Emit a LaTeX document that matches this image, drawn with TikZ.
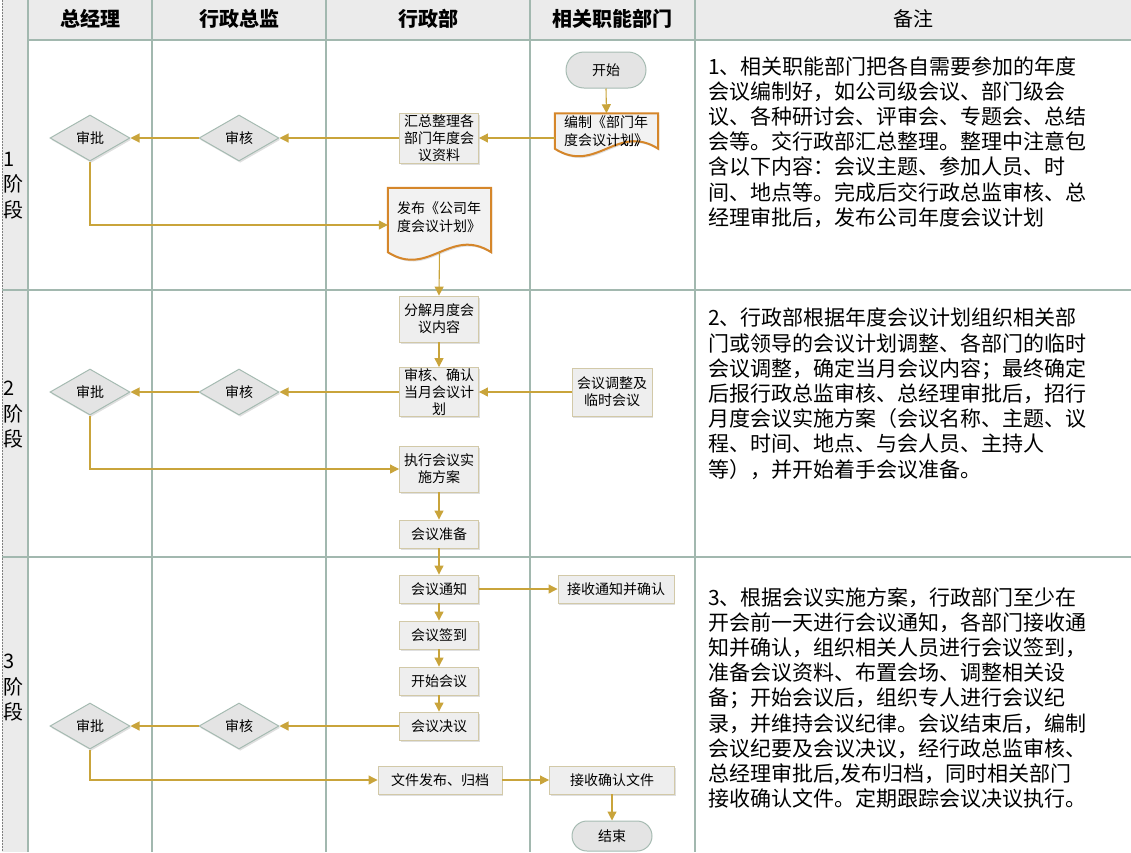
\documentclass[tikz,border=0pt]{standalone}
\usepackage{fontspec}
\setmainfont{Noto Sans CJK SC}
\usetikzlibrary{shapes.geometric,arrows.meta,shadows}
\definecolor{lane}{HTML}{A2B8AF}
\definecolor{arrowc}{HTML}{C9A43B}
\definecolor{boxline}{HTML}{D2C9A8}
\definecolor{boxfill}{HTML}{EEEEEE}
\definecolor{dmline}{HTML}{A6BBB2}
\definecolor{dmfill}{HTML}{E4E4E4}
\definecolor{docline}{HTML}{D5862A}
\definecolor{docfill}{HTML}{F2F2F2}
\definecolor{hdfill}{HTML}{EBEBEB}
\begin{document}
\begin{tikzpicture}[x=1pt,y=-1pt,
  lanesty/.style={draw=lane,line width=1.3pt},
  arr/.style={draw=arrowc,line width=1.1pt,-{Triangle[length=9pt,width=9pt]}},
  shade/.style={drop shadow={shadow xshift=1.2pt,shadow yshift=-1.8pt,opacity=0.25}},
  flowbox/.style={rectangle,draw=boxline,fill=boxfill,line width=0.9pt,inner sep=1pt,align=center,
    font=\fontsize{14}{17}\selectfont,shade},
  dm/.style={diamond,draw=dmline,fill=dmfill,line width=1pt,inner sep=0pt,minimum width=80pt,
    minimum height=46pt,font=\fontsize{14}{17}\selectfont,shade},
  term/.style={rectangle,draw=dmline,fill=dmfill,line width=1pt,minimum width=80pt,
    font=\fontsize{14}{17}\selectfont},
  doctext/.style={rectangle,inner xsep=9pt,inner ysep=2pt,text width=85pt,align=left,
    font=\fontsize{14}{18}\selectfont},
  docshape/.style={draw=docline,fill=docfill,line width=2pt,shade},
  hd/.style={font=\fontsize{20}{24}\selectfont\bfseries},
  note/.style={anchor=north west,inner sep=0pt,align=left,font=\fontsize{21}{25.2}\selectfont},
  stage/.style={anchor=north west,inner sep=0pt,align=left,font=\fontsize{20}{25.5}\selectfont}
]
\useasboundingbox (0,0) rectangle (1131,852);
% backgrounds
\fill[hdfill] (28,0) rectangle (1131,40);
\fill[hdfill] (2,0) rectangle (28,852);
\draw[gray,line width=0.6pt,dash pattern=on 1.5pt off 1.5pt] (2,0) -- (2,852);
% lane lines
\foreach \xx in {28,152,326,530,695} \draw[lanesty] (\xx,0) -- (\xx,852);
\draw[lanesty] (28,40) -- (1131,40);
\draw[lanesty] (2,290) -- (1131,290);
\draw[lanesty] (2,557) -- (1131,557);
% header
\node[hd] (h1) at (90,19) {总经理};
\node[hd] (h2) at (239,19) {行政总监};
\node[hd] (h3) at (428,19) {行政部};
\node[hd] (h4) at (612,19) {相关职能部门};
\node[font=\fontsize{20}{24}\selectfont] (h5) at (913,19) {备注};
% stage labels
\node[stage] (s1) at (3,152) {1\\阶\\段};
\node[stage] (s2) at (3,381) {2\\阶\\段};
\node[stage] (s3) at (3,654) {3\\阶\\段};
% ---- stage 1
\node[term,minimum height=36pt,rounded corners=18pt] (ks) at (606,70) {开始};
\node[doctext] (bz) at (606.5,131) {编制《部门年\\度会议计划》};
\draw[docshape] (bz.north west) -- (bz.north east) -- (bz.south east)
  .. controls +(-41,-26) and +(41,26) .. (bz.south west) -- cycle;
\node[doctext] (bz2) at (bz.center) {编制《部门年\\度会议计划》};
\node[flowbox,minimum width=79pt,minimum height=50pt] (hz) at (439,138) {汇总整理各\\部门年度会\\议资料};
\node[dm] (sh1) at (239,138) {审核};
\node[dm] (sp1) at (90,138) {审批};
\node[doctext,minimum height=64pt] (fb) at (439.5,220) {\phantom{发}};
\draw[docshape] (fb.north west) -- (fb.north east) -- (fb.south east)
  .. controls +(-41,-26) and +(41,26) .. (fb.south west) -- cycle;
\node[doctext] (fb2) at ([yshift=3pt]fb.center) {发布《公司年\\度会议计划》};
% ---- stage 2
\node[flowbox,minimum width=79pt,minimum height=46pt] (fj) at (439,319) {分解月度会\\议内容};
\node[flowbox,minimum width=79pt,minimum height=48pt] (qr) at (439,392) {审核、确认\\当月会议计\\划};
\node[flowbox,minimum width=80pt,minimum height=48pt] (tz) at (612,392) {会议调整及\\临时会议};
\node[dm] (sh2) at (239,392) {审核};
\node[dm] (sp2) at (90,392) {审批};
\node[flowbox,minimum width=79pt,minimum height=46pt] (zx) at (439,469) {执行会议实\\施方案};
\node[flowbox,minimum width=79pt,minimum height=28pt] (zb) at (439,534) {会议准备};
% ---- stage 3
\node[flowbox,minimum width=79pt,minimum height=28pt] (tzh) at (439,589) {会议通知};
\node[flowbox,minimum width=116pt,minimum height=28pt] (js) at (616,589) {接收通知并确认};
\node[flowbox,minimum width=79pt,minimum height=28pt] (qd) at (439,635) {会议签到};
\node[flowbox,minimum width=79pt,minimum height=28pt] (ksh) at (439,681) {开始会议};
\node[flowbox,minimum width=79pt,minimum height=28pt] (jy) at (439,726) {会议决议};
\node[dm] (sh3) at (239,726) {审核};
\node[dm] (sp3) at (90,726) {审批};
\node[flowbox,minimum width=124pt,minimum height=28pt] (wj) at (440,780) {文件发布、归档};
\node[flowbox,minimum width=125pt,minimum height=28pt] (qrw) at (612,780) {接收确认文件};
\node[term,minimum height=30pt,rounded corners=15pt] (jsu) at (612,836) {结束};
% ---- connectors
\draw[arr] (ks.south) -- (bz.north);
\draw[arr] (bz.west |- hz.east) -- (hz.east);
\draw[arr] (hz.west) -- (sh1.east);
\draw[arr] (sh1.west) -- (sp1.east);
\draw[arr] (sp1.south) |- ([yshift=-5pt]fb.west);
\draw[arr] (fb.south) -- (fj.north);
\draw[arr] (fj.south) -- (qr.north);
\draw[arr] (tz.west) -- (qr.east);
\draw[arr] (qr.west) -- (sh2.east);
\draw[arr] (sh2.west) -- (sp2.east);
\draw[arr] (sp2.south) |- (zx.west);
\draw[arr] (zx.south) -- (zb.north);
\draw[arr] (zb.south) -- (tzh.north);
\draw[arr] (tzh.east) -- (js.west);
\draw[arr] (tzh.south) -- (qd.north);
\draw[arr] (qd.south) -- (ksh.north);
\draw[arr] (ksh.south) -- (jy.north);
\draw[arr] (jy.west) -- (sh3.east);
\draw[arr] (sh3.west) -- (sp3.east);
\draw[arr] (sp3.south) |- (wj.west);
\draw[arr] (wj.east) -- (qrw.west);
\draw[arr] (qrw.south) -- (jsu.north);
% ---- notes
\node[note] (n1) at (708,56) {1、相关职能部门把各自需要参加的年度\\会议编制好，如公司级会议、部门级会\\议、各种研讨会、评审会、专题会、总结\\会等。交行政部汇总整理。整理中注意包\\含以下内容：会议主题、参加人员、时\\间、地点等。完成后交行政总监审核、总\\经理审批后，发布公司年度会议计划};
\node[note] (n2) at (708,308) {2、行政部根据年度会议计划组织相关部\\门或领导的会议计划调整、各部门的临时\\会议调整，确定当月会议内容；最终确定\\后报行政总监审核、总经理审批后，招行\\月度会议实施方案（会议名称、主题、议\\程、时间、地点、与会人员、主持人\\等），并开始着手会议准备。};
\node[note] (n3) at (708,587) {3、根据会议实施方案，行政部门至少在\\开会前一天进行会议通知，各部门接收通\\知并确认，组织相关人员进行会议签到，\\准备会议资料、布置会场、调整相关设\\备；开始会议后，组织专人进行会议纪\\录，并维持会议纪律。会议结束后，编制\\会议纪要及会议决议，经行政总监审核、\\总经理审批后,发布归档，同时相关部门\\接收确认文件。定期跟踪会议决议执行。};
\end{tikzpicture}
\end{document}
